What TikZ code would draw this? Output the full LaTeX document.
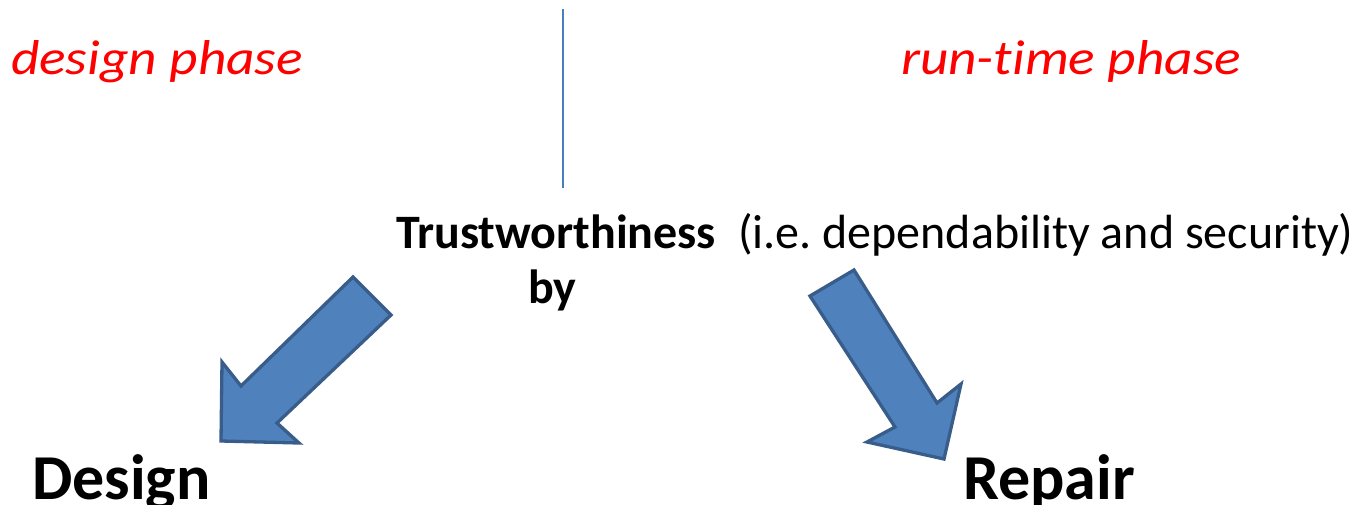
\documentclass[tikz,border=0pt]{standalone}
\usepackage{fontspec}
\setmainfont{Carlito}[Ligatures=NoCommon]
\newfontfamily\phasefont{Carlito}[FakeStretch=1.13,Ligatures=NoCommon]
\definecolor{phasered}{HTML}{FF0000}
\definecolor{arrowfill}{HTML}{4F81BD}
\definecolor{arrowline}{HTML}{385D8A}
\definecolor{divider}{HTML}{4A7EBB}
\begin{document}
\frenchspacing
\begin{tikzpicture}[x=1pt,y=-1pt,
  txt/.style={anchor=base west,inner sep=0pt,outer sep=0pt},
  phase/.style={txt,text=phasered,font=\phasefont\fontsize{49}{58}\selectfont\itshape},
  headline/.style={txt,font=\fontsize{48}{58}\selectfont},
  target/.style={txt,font=\fontsize{64}{76}\selectfont\bfseries},
  blockarrow/.style={draw=arrowline,fill=arrowfill,line width=3.3pt,line join=miter}]
\useasboundingbox (0,0) rectangle (1360,504);

% phase labels and the divider between them
\node[phase] (designphase) at (11,74) {design phase};
\node[phase] (runphase) at (901,74) {run-time phase};
\coordinate (divtop) at (563,9);
\coordinate (divbot) at (563,188);
\draw[divider,line width=1.5pt] (divtop) -- (divbot);

% central statement
\node[headline] (trust) at (396,248) {\textbf{Trustworthiness}\hspace{22pt}(i.e. dependability and security)};
\node[headline,font=\fontsize{48}{58}\selectfont\bfseries] (by) at (528,303) {by};

% the two outcomes
\node[target] (design) at (32,499) {Design};
\node[target] (repair) at (963,499) {Repair};

% block arrow towards Design
\draw[blockarrow] (353,277) -- (391,315) -- (277,423) -- (299,443)
  -- (221,441) -- (222,362) -- (241,386) -- cycle;
% block arrow towards Repair
\draw[blockarrow] (810,296) -- (854,270) -- (937,403) -- (961,384)
  -- (944,459) -- (867,442) -- (895,427) -- cycle;
\end{tikzpicture}
\end{document}
